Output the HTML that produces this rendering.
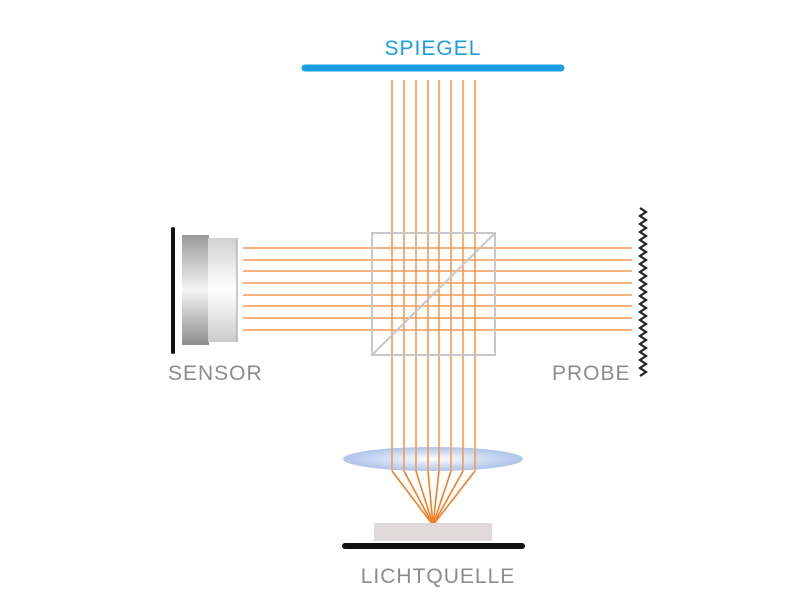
<!DOCTYPE html>
<html><head><meta charset="utf-8"><style>
html,body{margin:0;padding:0;background:#fff;}
svg{display:block;}
text{font-family:"Liberation Sans",sans-serif;font-size:21px;fill:#8c8c8c;letter-spacing:1px;}
</style></head><body>
<svg width="800" height="600" viewBox="0 0 800 600" xmlns="http://www.w3.org/2000/svg">
<defs>
<linearGradient id="sd" x1="0" y1="0" x2="0" y2="1">
<stop offset="0" stop-color="#9a9a9a"/><stop offset="0.5" stop-color="#f4f4f4"/><stop offset="1" stop-color="#8e8e8e"/>
</linearGradient>
<linearGradient id="sl" x1="0" y1="0" x2="0" y2="1">
<stop offset="0" stop-color="#d2d2d2"/><stop offset="0.5" stop-color="#ffffff"/><stop offset="1" stop-color="#cccccc"/>
</linearGradient>
<radialGradient id="lens" cx="0.5" cy="0.5" r="0.5">
<stop offset="0" stop-color="#ffffff"/><stop offset="0.5" stop-color="#d4e0f4"/><stop offset="1" stop-color="#aec4ea"/>
</radialGradient>
</defs>
<text x="433" y="55" text-anchor="middle" style="fill:#1a9ee0">SPIEGEL</text>
<line x1="305" y1="68" x2="561" y2="68" stroke="#1a9ee0" stroke-width="7" stroke-linecap="round"/>
<ellipse cx="433" cy="459" rx="90" ry="12" fill="url(#lens)"/>
<g stroke="#f39a55" stroke-width="1.6">
<line x1="392" y1="80" x2="392" y2="471"/><line x1="404" y1="80" x2="404" y2="471"/>
<line x1="416" y1="80" x2="416" y2="471"/><line x1="428" y1="80" x2="428" y2="471"/>
<line x1="439" y1="80" x2="439" y2="471"/><line x1="451" y1="80" x2="451" y2="471"/>
<line x1="463" y1="80" x2="463" y2="471"/><line x1="475" y1="80" x2="475" y2="471"/>
<line x1="243" y1="248" x2="632" y2="248"/><line x1="243" y1="260" x2="632" y2="260"/>
<line x1="243" y1="271" x2="632" y2="271"/><line x1="243" y1="283" x2="632" y2="283"/>
<line x1="243" y1="295" x2="632" y2="295"/><line x1="243" y1="306" x2="632" y2="306"/>
<line x1="243" y1="318" x2="632" y2="318"/><line x1="243" y1="330" x2="632" y2="330"/>
</g>
<rect x="372" y="233" width="123" height="122" fill="none" stroke="#c8c8c8" stroke-width="2"/>
<line x1="373" y1="354" x2="494" y2="234" stroke="#c8c8c8" stroke-width="2"/>
<line x1="173" y1="229" x2="173" y2="352" stroke="#111" stroke-width="4" stroke-linecap="round"/>
<rect x="182" y="235" width="27" height="110" fill="url(#sd)"/>
<rect x="208" y="238" width="29" height="104" fill="url(#sl)"/>
<line x1="237" y1="238" x2="237" y2="342" stroke="#999" stroke-width="1"/>
<text x="168" y="380">SENSOR</text>
<path d="M640 208 l6 4 l-6 4 l6 4 l-6 4 l6 4 l-6 4 l6 4 l-6 4 l6 4 l-6 4 l6 4 l-6 4 l6 4 l-6 4 l6 4 l-6 4 l6 4 l-6 4 l6 4 l-6 4 l6 4 l-6 4 l6 4 l-6 4 l6 4 l-6 4 l6 4 l-6 4 l6 4 l-6 4 l6 4 l-6 4 l6 4 l-6 4 l6 4 l-6 4 l6 4 l-6 4 l6 4 l-6 4 l6 4 l-6 4" fill="none" stroke="#222" stroke-width="2.2"/>
<text x="552" y="380">PROBE</text>
<g stroke="#f07f28" stroke-width="1.6">
<line x1="392" y1="471" x2="433" y2="525"/><line x1="404" y1="471" x2="433" y2="525"/>
<line x1="416" y1="471" x2="433" y2="525"/><line x1="428" y1="471" x2="433" y2="525"/>
<line x1="439" y1="471" x2="433" y2="525"/><line x1="451" y1="471" x2="433" y2="525"/>
<line x1="463" y1="471" x2="433" y2="525"/><line x1="475" y1="471" x2="433" y2="525"/>
</g>
<rect x="374" y="523" width="118" height="18" fill="#e0dadb"/>
<line x1="345" y1="546" x2="522" y2="546" stroke="#111" stroke-width="6" stroke-linecap="round"/>
<text x="438" y="583" text-anchor="middle">LICHTQUELLE</text>
</svg>
</body></html>
